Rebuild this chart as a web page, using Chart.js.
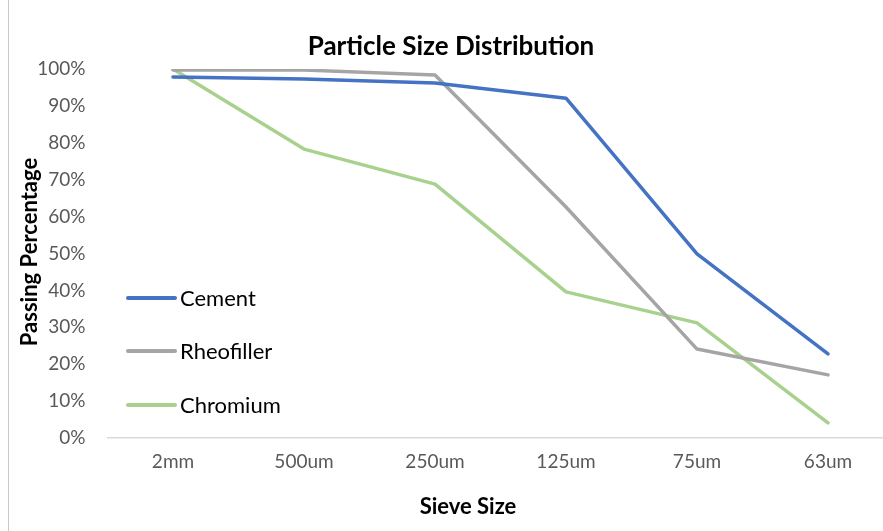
<!DOCTYPE html>
<html>
<head>
<meta charset="utf-8">
<script src="https://cdn.jsdelivr.net/npm/chart.js@4"></script>
<style>
  html, body { margin: 0; padding: 0; background: #fff; overflow: hidden; }
  #wrap { position: relative; width: 883px; height: 531px; overflow: hidden; }
  #frame { position: absolute; left: 8px; top: 0; width: 1px; height: 531px; background: #c8c8c8; }
  #box { position: absolute; left: 0; top: 0; width: 902px; height: 531px; }
</style>
</head>
<body>
<div id="wrap">
  <div id="box"><canvas id="psdChart"></canvas></div>
  <div id="frame"></div>
</div>
<script>
// Particle size distribution - passing % per sieve

var sieveSizes = ['2mm', '500um', '250um', '125um', '75um', '63um'];
var cement = [97.8, 97.3, 96.2, 92.1, 49.9, 22.8];
var rheofiller = [99.7, 99.7, 98.4, 62.6, 24.1, 17.1];
var chromium = [100, 78.3, 68.8, 39.6, 31.2, 4.1];
var yTicks = [0, 10, 20, 30, 40, 50, 60, 70, 80, 90, 100];

var fontFam = "Lato, 'Liberation Sans', sans-serif";

// draws title, axis titles and the in-plot legend the way the original has them
var extras = {
    id: 'extras',
    afterDraw: function (chart) {
        var c = chart.ctx;
        c.save();
        c.fillStyle = '#000';
        c.textAlign = 'center';
        c.textBaseline = 'middle';
        c.font = 'bold 26px ' + fontFam;
        c.fillText('Particle Size Distribution', 451, 47);

        c.font = 'bold 22px ' + fontFam;
        c.fillText('Sieve Size', 468, 507);
        c.save();
        c.translate(30, 252);
        c.rotate(-Math.PI / 2);
        c.fillText('Passing Percentage', 0, 0);
        c.restore();

        // legend
        c.textAlign = 'left';
        c.font = '22px ' + fontFam;
        var legY = [298, 351, 405];
        chart.data.datasets.forEach(function (ds, i) {
            c.strokeStyle = ds.borderColor;
            c.lineWidth = 4;
            c.lineCap = 'round';
            c.beginPath();
            c.moveTo(128, legY[i]);
            c.lineTo(175, legY[i]);
            c.stroke();
            c.fillStyle = '#000';
            c.fillText(ds.label, 180, legY[i] + 1);
        });
        c.restore();
    }
};

var ctx = document.getElementById('psdChart').getContext('2d');
var psdChart = new Chart(ctx, {
    type: 'line',
    data: {
        labels: sieveSizes,
        datasets: [{
            label: 'Cement',
            data: cement,
            borderColor: '#4472C4'
        }, {
            label: 'Rheofiller',
            data: rheofiller,
            borderColor: '#A5A5A5'
        }, {
            label: 'Chromium',
            data: chromium,
            borderColor: '#A9D18E'
        }]
    },
    options: {
        responsive: true,
        maintainAspectRatio: false,
        animation: false,
        layout: {
            padding: { top: 69, right: 8.5, bottom: 0, left: 0 }
        },
        elements: {
            line: { borderWidth: 3.5, tension: 0, borderCapStyle: 'round', borderJoinStyle: 'round', fill: false },
            point: { radius: 0, hoverRadius: 0 }
        },
        plugins: {
            legend: { display: false },
            title: { display: false },
            tooltip: { enabled: false }
        },
        scales: {
            x: {
                offset: true,
                grid: { display: false, drawTicks: false },
                border: { display: true, color: '#d9d9d9', width: 1.5 },
                ticks: {
                    color: '#595959',
                    font: { family: fontFam, size: 19 },
                    padding: 12,
                    maxRotation: 0
                },
                afterFit: function (s) { s.height = 93; }
            },
            y: {
                min: 0,
                max: 100,
                afterBuildTicks: function (s) {
                    s.ticks = yTicks.map(function (v) { return { value: v }; });
                },
                grid: { display: false, drawTicks: false },
                border: { display: false },
                ticks: {
                    color: '#595959',
                    font: { family: fontFam, size: 19 },
                    padding: 22,
                    callback: function (v) { return v + '%'; }
                },
                afterFit: function (s) { s.width = 107.5; }
            }
        }
    },
    plugins: [extras]
});
</script>
</body>
</html>
